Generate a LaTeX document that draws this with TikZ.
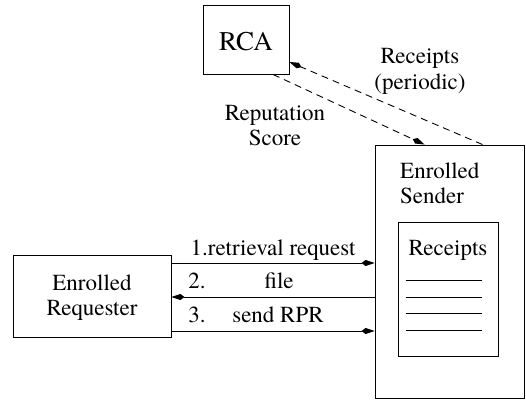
\documentclass[tikz,border=0pt]{standalone}
\usepackage{fontspec}
\setmainfont{texgyretermes-regular.otf}
\usetikzlibrary{arrows.meta}
\begin{document}
\begin{tikzpicture}[x=1pt,y=-1pt,
  box/.style={draw,line width=0.9pt,inner sep=0pt},
  lbl/.style={font=\fontsize{23}{25}\selectfont,inner sep=0pt},
  arr/.style={line width=0.9pt,-{Kite[length=13pt,width=6pt,inset=4pt]}},
  dsh/.style={arr,dash pattern=on 7pt off 5pt}]
\useasboundingbox (0,0) rectangle (526,401);
\node[box,minimum width=86pt,minimum height=69pt] (rca) at (246,39.5) {};
\node[lbl,font=\fontsize{27}{29}\selectfont,anchor=base] (rcat) at (246,51) {RCA};
\node[box,minimum width=149pt,minimum height=253pt] (snd) at (449.5,271.5) {};
\node[lbl,align=left,anchor=base west] (sndt) at (400,203) {Enrolled\\Sender};
\node[box,minimum width=100pt,minimum height=134pt] (rcp) at (448,289) {};
\node[lbl,anchor=base] (rcpt) at (448,255) {Receipts};
\foreach \yy in {-9,8,24,41}
  \draw[line width=0.9pt] ([xshift=8pt,yshift=-\yy pt]rcp.west) -- ++(76,0);
\node[box,minimum width=158pt,minimum height=82pt] (req) at (92,296) {};
\node[lbl,align=center,anchor=base] (reqt) at (92,315) {Enrolled\\Requester};
% arrows
\draw[arr] ([yshift=33pt]req.east) -- ([yshift=33pt]req.east -| snd.west);
\draw[arr] ([yshift=-1pt]req.east -| snd.west) -- ([yshift=-1pt]req.east);
\draw[arr] ([yshift=-35pt]req.east) -- ([yshift=-35pt]req.east -| snd.west);
\node[lbl,anchor=base] (l1) at (273,255) {1.retrieval request};
\node[lbl,anchor=base] (l2a) at (197,288) {2.};
\node[lbl,anchor=base] (l2b) at (279,288) {file};
\node[lbl,anchor=base] (l3a) at (197,322) {3.};
\node[lbl,anchor=base] (l3b) at (278,322) {send RPR};
% dashed
\draw[dsh] ([xshift=27pt]rca.south) -- ([xshift=50pt]snd.north west);
\draw[dsh] ([xshift=108pt]snd.north west) -- ([yshift=-22.5pt]rca.east);
\node[lbl,align=center,anchor=base] (rp) at (420,89) {Receipts\\(periodic)};
\node[lbl,align=center,anchor=base] (rs) at (275,145) {Reputation\\Score};
\end{tikzpicture}
\end{document}
